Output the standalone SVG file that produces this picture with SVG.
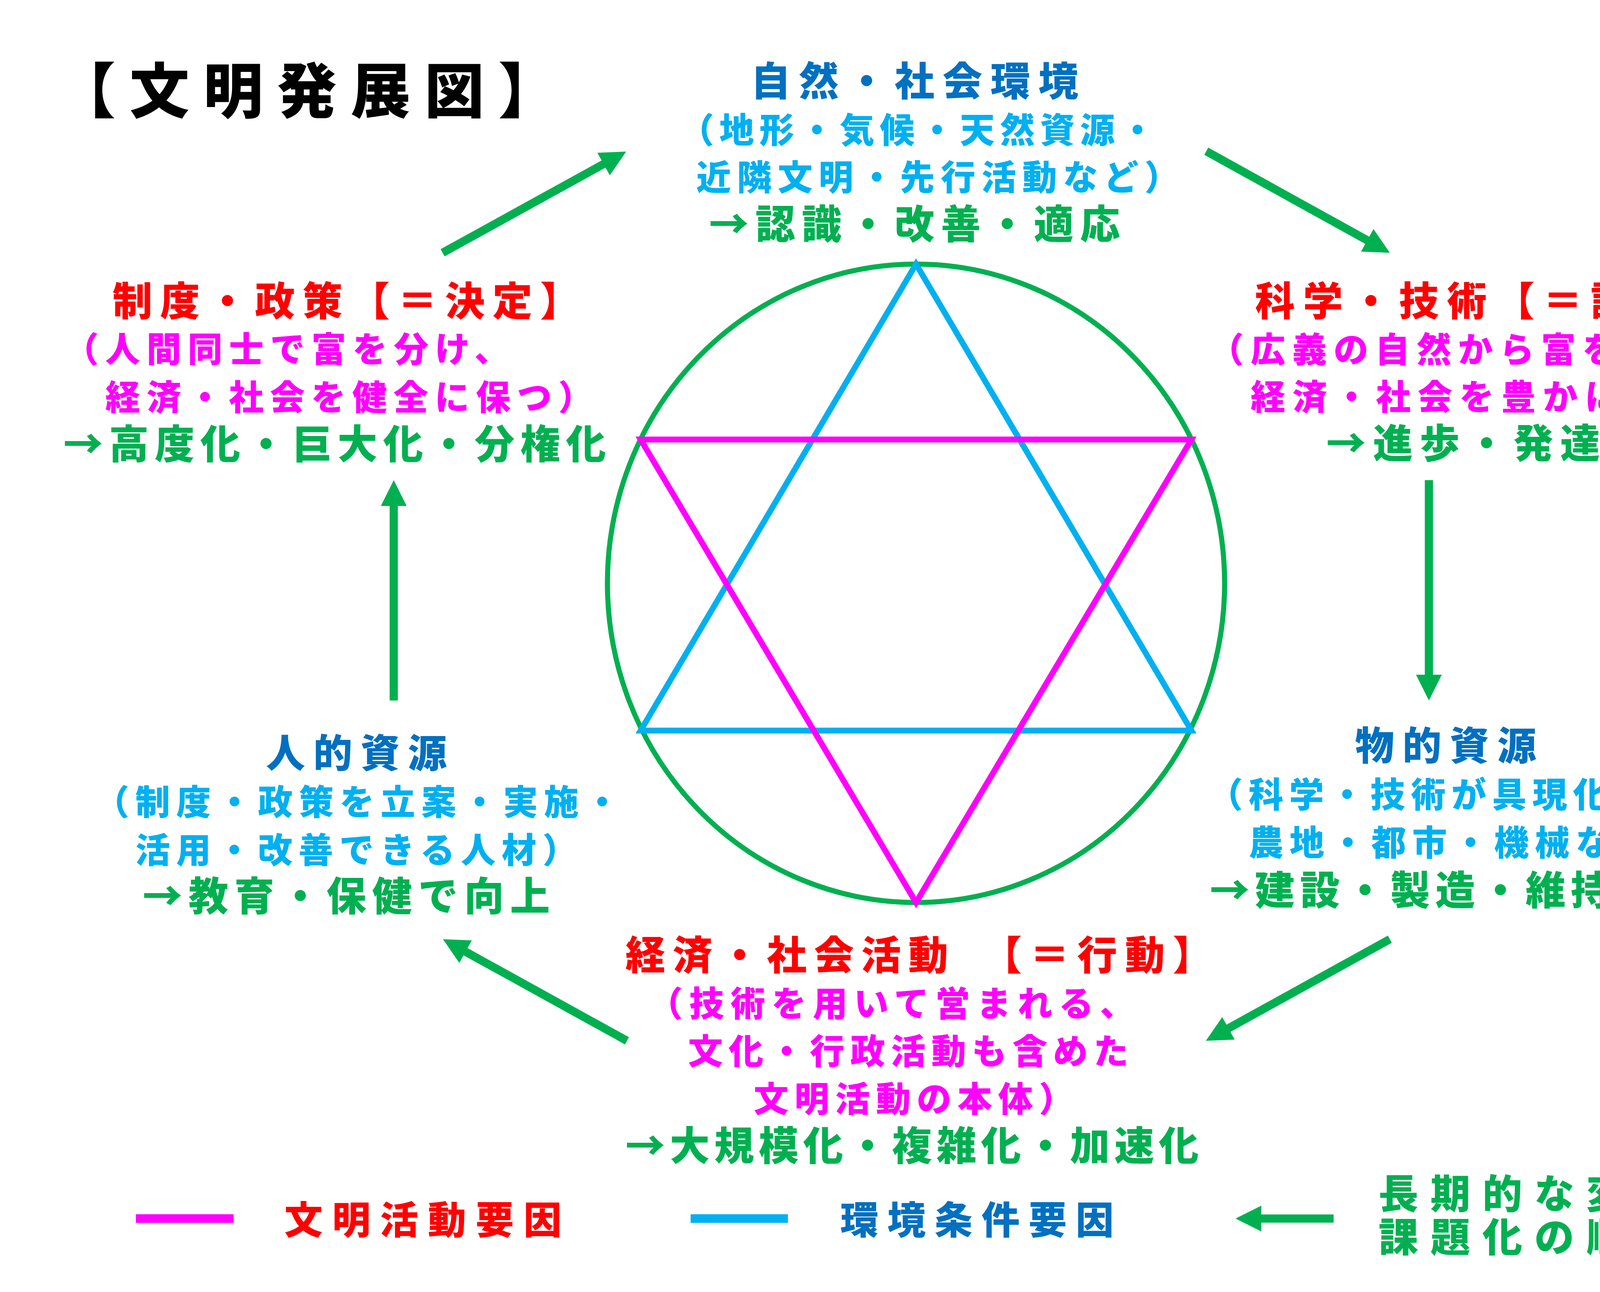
<svg xmlns="http://www.w3.org/2000/svg" width="4678" height="3307" viewBox="0 0 4678 3307">
<style>
text{font-family:"Noto Sans CJK JP","Noto Sans CJK SC",sans-serif;font-weight:900;}
.h{font-size:102px;}
.s{font-size:89px;}
.red{fill:#FF0000;}
.dblue{fill:#0070C0;}
.lblue{fill:#00B0F0;}
.mag{fill:#FF00FF;}
.grn{fill:#00B050;}
.conn{stroke:#00B050;stroke-width:21;fill:none;marker-end:url(#ah);}
</style>
<defs>
<marker id="ah" markerUnits="userSpaceOnUse" markerWidth="66" markerHeight="66" viewBox="0 -33 66 66" refX="16" refY="0" orient="auto" overflow="visible">
<path d="M0,-33 L66,0 L0,33 z" fill="#00B050"/>
</marker>
</defs>
<rect width="4678" height="3307" fill="#FFFFFF"/>

<g id="title">
<text x="143" y="289" style="font-size:153px;letter-spacing:35.75px" fill="#000000">【文明発展図】</text>
</g>

<g id="star">
<ellipse cx="2345" cy="1493" rx="790" ry="817" fill="none" stroke="#00B050" stroke-width="13"/>
<polygon points="1640,1870 3050,1870 2345,676" fill="none" stroke="#00B0F0" stroke-width="15" stroke-linejoin="miter"/>
<polygon points="1640,1125 3050,1125 2345,2310" fill="none" stroke="#FF00FF" stroke-width="15" stroke-linejoin="miter"/>
</g>

<g id="connectors">
<line class="conn" x1="1133" y1="647" x2="1559.2" y2="412.1"/>
<line class="conn" x1="3088" y1="387" x2="3514.2" y2="622.8"/>
<line class="conn" x1="3658" y1="1229" x2="3658" y2="1743"/>
<line class="conn" x1="3558" y1="2404" x2="3130.8" y2="2639.8"/>
<line class="conn" x1="1605" y1="2664" x2="1177.8" y2="2428.2"/>
<line class="conn" x1="1008" y1="1793" x2="1008" y2="1279"/>
</g>

<g id="node-environment">
<text class="h dblue" x="1922" y="245" style="letter-spacing:20.7px">自然・社会環境</text>
<text class="s lblue" x="1739" y="365" style="letter-spacing:13.6px">（地形・気候・天然資源・</text>
<text class="s lblue" x="1782.5" y="486" style="letter-spacing:15.3px">近隣文明・先行活動など）</text>
<text class="h grn" x="1815" y="611" style="letter-spacing:16.75px">→認識・改善・適応</text>
</g>

<g id="node-science">
<text class="h red" x="3213" y="808" style="letter-spacing:20.75px">科学・技術【＝認識】</text>
<text class="s mag" x="3095.3" y="927" style="letter-spacing:17.2px">（広義の自然から富を得て、</text>
<text class="s mag" x="3201.5" y="1048" style="letter-spacing:17.9px">経済・社会を豊かにする）</text>
<text class="h grn" x="3395" y="1172" style="letter-spacing:17.8px">→進歩・発達</text>
</g>

<g id="node-material">
<text class="dblue" x="3469" y="1945" style="font-size:100px;letter-spacing:21.3px">物的資源</text>
<text class="s lblue" x="3092.7" y="2066" style="letter-spacing:14.8px">（科学・技術が具現化した</text>
<text class="s lblue" x="3196.5" y="2189" style="letter-spacing:15.7px">農地・都市・機械など）</text>
<text class="h grn" x="3097" y="2316" style="letter-spacing:13.5px">→建設・製造・維持・更新</text>
</g>

<g id="node-activity">
<text class="h red" x="1601" y="2482" style="letter-spacing:18.7px">経済・社会活動<tspan x="2514" style="letter-spacing:20px">【＝行動】</tspan></text>
<text class="s mag" x="1659.1" y="2601" style="letter-spacing:16.4px">（技術を用いて営まれる、</text>
<text class="s mag" x="1761.5" y="2723" style="letter-spacing:14.8px">文化・行政活動も含めた</text>
<text class="s mag" x="1929.5" y="2845" style="letter-spacing:15.3px">文明活動の本体）</text>
<text class="h grn" x="1601" y="2970" style="letter-spacing:11.8px">→大規模化・複雑化・加速化</text>
</g>

<g id="node-human">
<text class="dblue" x="681" y="1964" style="font-size:100px;letter-spacing:21px">人的資源</text>
<text class="s lblue" x="241.9" y="2085" style="letter-spacing:15.6px">（制度・政策を立案・実施・</text>
<text class="s lblue" x="346.5" y="2208" style="letter-spacing:15.4px">活用・改善できる人材）</text>
<text class="h grn" x="365" y="2331" style="letter-spacing:15.6px">→教育・保健で向上</text>
</g>

<g id="node-policy">
<text class="h red" x="288" y="808" style="letter-spacing:19.6px">制度・政策【＝決定】</text>
<text class="s mag" x="164" y="926" style="letter-spacing:16.5px">（人間同士で富を分け、</text>
<text class="s mag" x="269.5" y="1049" style="letter-spacing:16.4px">経済・社会を健全に保つ）</text>
<text class="h grn" x="162" y="1174" style="letter-spacing:15px">→高度化・巨大化・分権化</text>
</g>

<g id="legend">
<rect x="348" y="3108" width="250" height="22" fill="#FF00FF"/>
<text class="red" x="728" y="3158" style="font-size:98px;letter-spacing:24.4px">文明活動要因</text>
<rect x="1768" y="3108" width="249" height="22" fill="#00B0F0"/>
<text class="dblue" x="2151" y="3158" style="font-size:98px;letter-spacing:22.5px">環境条件要因</text>
<line class="conn" x1="3414" y1="3119" x2="3213" y2="3119"/>
<text class="h grn" x="3529" y="3093" style="letter-spacing:31px">長期的な変化・</text>
<text class="h grn" x="3529" y="3204" style="letter-spacing:31px">課題化の順序</text>
</g>
</svg>
